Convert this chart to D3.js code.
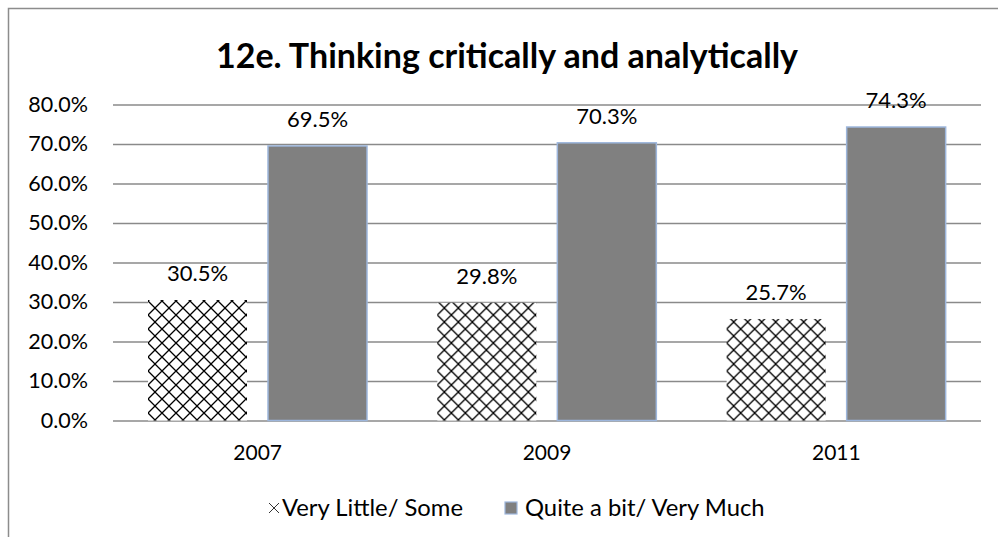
<!DOCTYPE html>
<html><head><meta charset="utf-8">
<script src="https://cdn.jsdelivr.net/npm/d3@7"></script>
<style>body{margin:0;background:#fff;} svg{display:block;}</style>
</head><body>
<script>
const years = ["2007", "2009", "2011"];
const seriesNames = ["Very Little/ Some", "Quite a bit/ Very Much"];
const veryLittle = [30.5, 29.8, 25.7];
const quiteABit = [69.5, 70.3, 74.3];
const yTicks = [0, 10, 20, 30, 40, 50, 60, 70, 80];
const title = "12e. Thinking critically and analytically";

const W = 998, H = 541;
const font = "Lato, 'Open Sans', sans-serif";
const svg = d3.select("body").append("svg").attr("width", W).attr("height", H);

const defs = svg.append("defs");
const pat = defs.append("pattern").attr("id", "hatch").attr("patternUnits", "userSpaceOnUse")
  .attr("width", 14).attr("height", 14);
pat.append("rect").attr("width", 14).attr("height", 14).attr("fill", "#fff");
pat.append("path").attr("d", "M0,0L14,14M14,0L0,14").attr("stroke", "#000").attr("stroke-width", 1.3).attr("fill", "none");

// chart frame
svg.append("path").attr("d", `M8.5,537V8.5H${W}`).attr("fill", "none").attr("stroke", "#8c8c8c").attr("stroke-width", 1.5);

const x0 = d3.scaleBand().domain(years).range([113, 981]).padding(0);
const x1 = d3.scaleBand().domain(seriesNames).range([35, 254]).paddingInner(0.175).paddingOuter(0);
const y = d3.scaleLinear().domain([0, 80]).range([420.5, 104.5]);

// gridlines
const yAxis = d3.axisLeft(y).tickValues(yTicks).tickSize(-(981 - 113)).tickPadding(25)
  .tickFormat(d => d3.format(".1f")(d) + "%");
const gy = svg.append("g").attr("transform", "translate(113,0)").call(yAxis);
gy.select(".domain").remove();
gy.selectAll(".tick line").attr("stroke", "#8a8a8a").attr("stroke-width", 1.5);
gy.selectAll(".tick text").attr("font-family", font).attr("font-size", 21.5).attr("fill", "#000");

const data = years.map((yr, i) => ({year: yr, vals: [veryLittle[i], quiteABit[i]]}));

const groups = svg.append("g").selectAll("g").data(data).join("g")
  .attr("transform", d => `translate(${x0(d.year)},0)`);

groups.selectAll("rect").data(d => d.vals.map((v, j) => ({v, s: seriesNames[j], j}))).join("rect")
  .attr("x", d => x1(d.s)).attr("width", x1.bandwidth())
  .attr("y", d => y(d.v)).attr("height", d => y(0) - y(d.v))
  .attr("fill", d => d.j === 0 ? "url(#hatch)" : "#808080")
  .attr("stroke", d => d.j === 0 ? "none" : "#9db6dc").attr("stroke-width", 1.5);

groups.selectAll("text.lbl").data(d => d.vals.map((v, j) => ({v, s: seriesNames[j], j}))).join("text")
  .attr("class", "lbl")
  .attr("x", d => x1(d.s) + x1.bandwidth() / 2).attr("y", d => y(d.v) - 19)
  .attr("text-anchor", "middle").attr("font-family", font).attr("font-size", 22)
  .text(d => d3.format(".1f")(d.v) + "%");

// category axis labels
const xAxis = d3.axisBottom(x0).tickSize(0).tickPadding(39.5);
const gx = svg.append("g").attr("transform", "translate(0,420.5)").call(xAxis);
gx.select(".domain").remove();
gx.selectAll(".tick text").attr("dy", 0).attr("font-family", font).attr("font-size", 21).attr("fill", "#000");

// title
svg.append("text").attr("x", 507).attr("y", 68).attr("text-anchor", "middle")
  .attr("font-family", font).attr("font-weight", "bold").attr("font-size", 34).text(title);

// legend
const lg = svg.append("g");
lg.append("path").attr("d", "M269,503L279,513M279,503L269,513").attr("stroke", "#333").attr("stroke-width", 1);
lg.append("text").attr("x", 463).attr("y", 516).attr("text-anchor", "end").attr("font-family", font).attr("font-size", 23.8).text(seriesNames[0]);
lg.append("rect").attr("x", 505).attr("y", 502).attr("width", 12).attr("height", 12).attr("fill", "#808080").attr("stroke", "#9db6dc").attr("stroke-width", 1.2);
lg.append("text").attr("x", 525).attr("y", 516).attr("font-family", font).attr("font-size", 23.8).text(seriesNames[1]);
</script>
</body></html>
